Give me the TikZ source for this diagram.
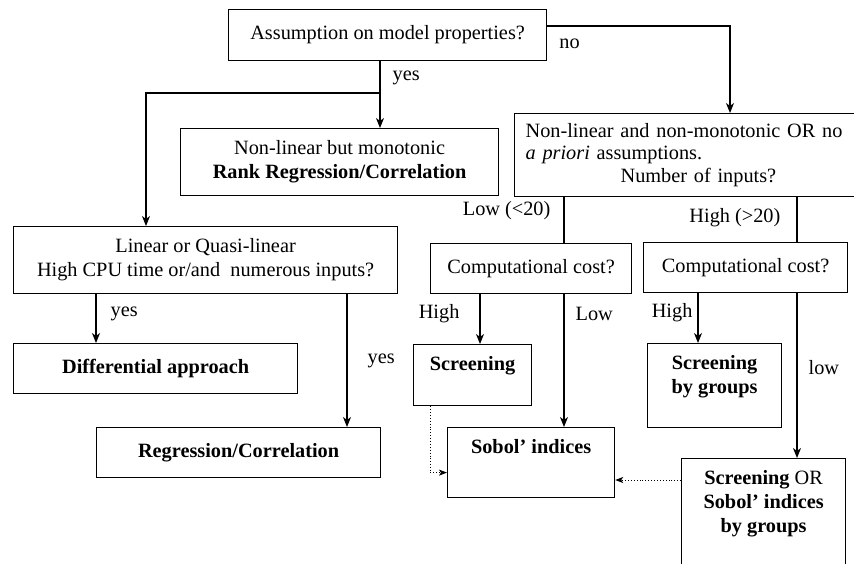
\documentclass[tikz,border=0pt]{standalone}
\usepackage{fontspec}
\setmainfont{Liberation Serif}
\usetikzlibrary{positioning,arrows.meta}
\newcommand\fsz{\fontsize{20.3}{24}\selectfont}
\tikzset{
  box/.style={draw,line width=1.2pt,inner sep=0pt,align=center,anchor=north west},
  arr/.style={line width=1.2pt,-{Stealth[length=10pt,width=8pt,inset=3pt]}},
  dotarr/.style={line width=0.9pt,dotted,-{Stealth[length=8pt,width=6pt,inset=2pt]}},
  lbl/.style={inner sep=0pt},
  toptext/.style={label={[anchor=north,inner sep=0pt,yshift=-12pt,align=center,font=\fsz\bfseries]north:{#1}}}
}
\begin{document}
\begin{tikzpicture}[x=1pt,y=-1pt,every node/.style={font=\fsz}]
\useasboundingbox (0,0) rectangle (854,563);
\clip (0,0) rectangle (854,563);
% boxes
\node[box,minimum width=318pt,minimum height=51pt] (q1) at (228,9) {Assumption on model properties?};
\node[box,minimum width=318pt,minimum height=67pt] (nlm) at (180,128) {Non-linear but monotonic\\\textbf{Rank Regression/Correlation}};
\node[box,minimum width=360pt,minimum height=83pt,text width=338pt,inner xsep=11pt,align=left,font=\fontsize{20.3}{22.5}\selectfont] (nlnm) at (514,113) {Non-linear and non-monotonic OR no\\\textit{a priori} assumptions.\\\hspace*{95pt}Number of inputs?};
\node[box,minimum width=384pt,minimum height=67pt] (lin) at (13,226) {Linear or Quasi-linear\\High CPU time or/and\ \ numerous inputs?};
\node[box,minimum width=201pt,minimum height=50pt] (cc1) at (430,243) {Computational cost?};
\node[box,minimum width=204pt,minimum height=50pt] (cc2) at (643,242) {Computational cost?};
\node[box,minimum width=284pt,minimum height=50pt] (diff) at (13,343) {\textbf{Differential approach}};
\node[box,minimum width=284pt,minimum height=50pt] (reg) at (96,427) {\textbf{Regression/Correlation}};
\node[box,minimum width=118pt,minimum height=61pt,toptext={Screening}] (scr) at (413,344) {};
\node[box,minimum width=167pt,minimum height=70pt,toptext={Sobol’ indices}] (sob) at (447,427) {};
\node[box,minimum width=134pt,minimum height=84pt,toptext={Screening\\by groups}] (sbg) at (647,343) {};
\node[box,minimum width=164pt,minimum height=125pt,toptext={Screening \mdseries OR\\Sobol’ indices\\by groups}] (sor) at (681,458) {};
% bends and columns
\coordinate (br) at (380,93);
\coordinate (lft) at (146,93);
\coordinate (nocr) at (730,26);
\coordinate (xl) at (564,0);
\coordinate (xh) at (797,0);
\coordinate (xs) at (480,0);
\coordinate (xg) at (698,0);
\coordinate (xdf) at (96,0);
\coordinate (xrg) at (347,0);
\coordinate (xdot) at (430,0);
\coordinate (dr) at (0,480);
% connectors
\draw[arr] (br |- q1.south) -- node[lbl,pos=0.25,right=12pt]{yes} (br |- nlm.north);
\draw[arr] (br) -- (lft) -- (lft |- lin.north);
\draw[arr] (q1.east |- nocr) -- (nocr) -- (nocr |- nlnm.north);
\node[lbl,anchor=west] at ([xshift=12pt,yshift=-8.5pt]q1.east) {no};
\draw[line width=1.2pt] (xl |- nlnm.south) -- node[lbl,pos=0.3,left=13pt]{Low (<20)} (xl |- cc1.north);
\draw[line width=1.2pt] (xh |- nlnm.south) -- node[lbl,pos=0.45,left=16pt]{High (>20)} (xh |- cc2.north);
\draw[arr] (xs |- cc1.south) -- node[lbl,pos=0.4,left=20pt]{High} (xs |- scr.north);
\draw[arr] (xl |- cc1.south) -- node[lbl,pos=0.15,right=11pt]{Low} (xl |- sob.north);
\draw[arr] (xg |- cc2.south) -- node[lbl,pos=0.4,left=5pt]{High} (xg |- sbg.north);
\draw[arr] (xh |- cc2.south) -- node[lbl,pos=0.45,right=11pt]{low} (xh |- sor.north);
\draw[arr] (xdf |- lin.south) -- node[lbl,pos=0.4,right=14pt]{yes} (xdf |- diff.north);
\draw[arr] (xrg |- lin.south) -- node[lbl,pos=0.5,right=20pt]{yes} (xrg |- reg.north);
\draw[dotarr] (xdot |- scr.south) |- ([yshift=-10pt]sob.west);
\draw[dotarr] (sor.west |- dr) -- (sob.east |- dr);
\end{tikzpicture}
\end{document}
